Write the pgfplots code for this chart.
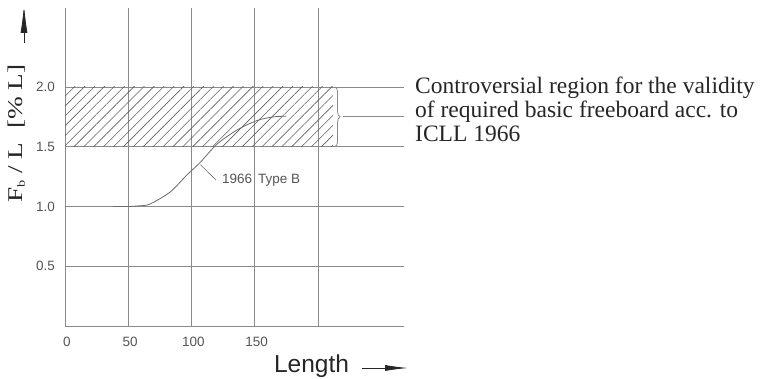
\documentclass[border=0pt]{standalone}
\usepackage{fontspec}
\setmainfont{Liberation Serif}
\setsansfont{Liberation Sans}
\usepackage{graphicx}
\usepackage{pgfplots}
\pgfplotsset{compat=1.18}
\usetikzlibrary{patterns.meta,decorations.pathreplacing,arrows.meta}

\definecolor{gridc}{HTML}{8A8A8A}
\definecolor{tickc}{HTML}{555555}
\definecolor{curvec}{HTML}{6A6A6A}
\definecolor{hatchc}{HTML}{606060}
\definecolor{textc}{HTML}{262626}

\begin{document}
\begin{tikzpicture}
\useasboundingbox (0pt,0pt) rectangle (768pt,379pt);
\begin{axis}[
  at={(65pt,53pt)}, anchor=south west,
  scale only axis, width=339pt, height=318pt,
  xmin=0, xmax=268, ymin=0, ymax=2.661,
  axis x line*=bottom, axis y line*=left,
  axis line style={gridc, line width=0.9pt},
  xtick={0,50,100,150,200}, xticklabels={0,50,100,150,{}},
  ytick={0.5,1.0,1.5,2.0},
  yticklabel style={/pgf/number format/fixed, /pgf/number format/fixed zerofill, /pgf/number format/precision=1},
  grid=major, major grid style={gridc, line width=0.8pt},
  major tick length=0pt,
  tick label style={font=\fontsize{13.5}{16}\selectfont\sffamily, text=tickc},
  /pgf/number format/assume math mode=true,
  xticklabel style={yshift=-8pt, xshift=2pt},
  yticklabel style={xshift=-6.5pt},
  clip=false,
]
\addplot[draw=none, pattern={Lines[angle=45,distance=7pt,line width=0.6pt]}, pattern color=hatchc]
  coordinates {(0,1.5) (212,1.5) (212,2.0) (0,2.0)};
\addplot[curvec, line width=0.8pt, smooth, tension=0.5]
  coordinates {(38,1.0) (50,1.0) (58,1.005) (67,1.02) (83,1.12) (96,1.26) (107,1.37) (120,1.52) (136,1.64) (152,1.72) (165,1.75) (175,1.755)};
\addplot[curvec, line width=0.6pt] coordinates {(107,1.35) (119.5,1.22)};
\node[anchor=west, inner sep=0pt, font=\fontsize{13.5}{16}\selectfont\sffamily, text=tickc] at (axis cs:124,1.222) {1966\hspace{0.45em}Type B};
\draw[gridc, line width=0.8pt, decorate, decoration={brace, amplitude=5pt}] (axis cs:213.5,2.0) -- (axis cs:213.5,1.5);
\addplot[gridc, line width=0.8pt] coordinates {(220,1.75) (268,1.75)};
\end{axis}
\node[rotate=90, inner sep=0pt, font=\fontsize{21}{24}\selectfont, text=textc] at (16.5pt,245.5pt) {\scalebox{1.3}[1]{F\raisebox{-0.25ex}{\fontsize{11}{12}\selectfont b} / L \ [\% L]}};
\draw[textc, line width=0.8pt, -{Latex[length=28pt,width=7pt]}] (24pt,336pt) -- (24pt,374pt);
\node[anchor=base, inner sep=0pt, font=\fontsize{24.5}{28}\selectfont\sffamily, text=textc] at (311.5pt,6pt) {Length};
\draw[textc, line width=0.8pt, -{Latex[length=23pt,width=6pt]}] (362pt,11pt) -- (408pt,11pt);
\node[anchor=base west, inner sep=0pt, font=\fontsize{23.5}{24}\selectfont, text=textc] at (415pt,285.7pt) {Controversial region for the validity};
\node[anchor=base west, inner sep=0pt, font=\fontsize{23.5}{24}\selectfont, text=textc] at (415pt,261.5pt) {of required basic freeboard acc. to};
\node[anchor=base west, inner sep=0pt, font=\fontsize{23.5}{24}\selectfont, text=textc] at (415pt,237.3pt) {ICLL 1966};
\end{tikzpicture}
\end{document}
